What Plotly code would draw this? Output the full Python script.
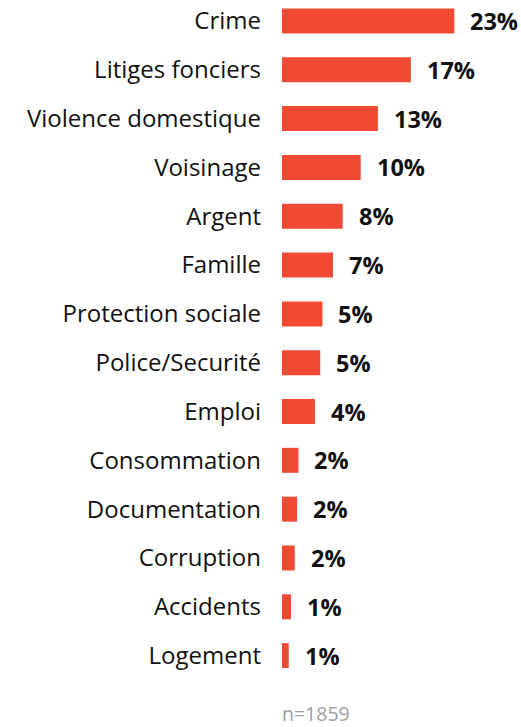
import plotly.graph_objects as go

categories = ["Crime", "Litiges fonciers", "Violence domestique", "Voisinage", "Argent",
              "Famille", "Protection sociale", "Police/Securité", "Emploi", "Consommation",
              "Documentation", "Corruption", "Accidents", "Logement"]
values = [23.0, 17.2, 12.8, 10.5, 8.1, 6.8, 5.4, 5.1, 4.4, 2.2, 2.0, 1.7, 1.2, 0.9]
labels = ["23%", "17%", "13%", "10%", "8%", "7%", "5%", "5%", "4%", "2%", "2%", "2%", "1%", "1%"]
note = "n=1859"

BAR = "#F04A35"
FONT = "Open Sans"

fig = go.Figure()
fig.add_trace(go.Bar(
    x=values, y=categories, orientation="h",
    marker=dict(color=BAR, line=dict(width=0)),
    hoverinfo="skip",
))

for c, v, t in zip(categories, values, labels):
    fig.add_annotation(x=v, y=c, text="<b>%s</b>" % t, showarrow=False,
                       xanchor="left", yanchor="middle", xshift=14, yshift=0,
                       font=dict(family=FONT, size=23.5, color="#111111"))

fig.add_annotation(x=0, y=-0.049, xref="paper", yref="paper", text=note,
                   showarrow=False, xanchor="left", yanchor="middle", xshift=-2,
                   font=dict(family=FONT, size=19.5, color="#A0A0A0"))

fig.update_layout(
    width=521, height=727,
    margin=dict(l=282, r=0, t=0, b=47),
    paper_bgcolor="white", plot_bgcolor="white",
    bargap=0.488,
    showlegend=False,
    xaxis=dict(range=[0, 31.9], visible=False, fixedrange=True),
    yaxis=dict(range=[13.5, -0.43], type="category", showgrid=False, zeroline=False,
               showline=False, ticks="", ticklabelstandoff=20,
               tickfont=dict(family=FONT, size=24, color="#111111")),
)

fig.write_html("out.html")
